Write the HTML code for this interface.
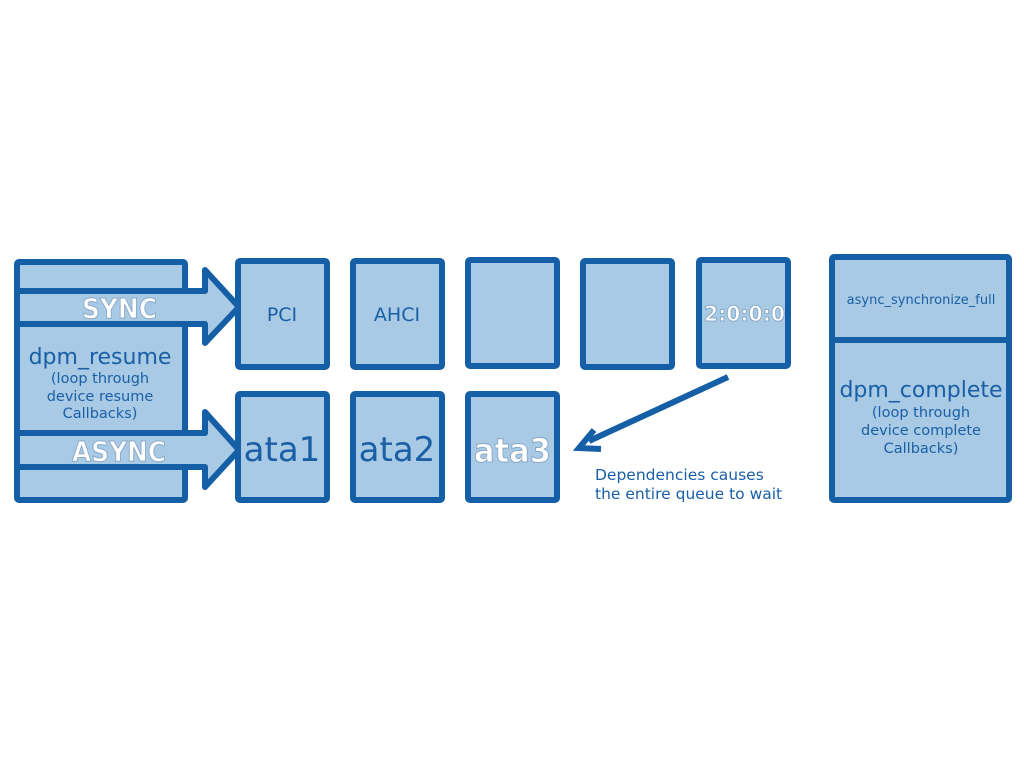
<!DOCTYPE html>
<html><head><style>
html,body{margin:0;padding:0;background:#fff;}
svg{display:block;}
</style></head><body>
<svg width="1024" height="768" viewBox="0 0 1024 768" font-family="DejaVu Sans, Liberation Sans, sans-serif">
<g fill="#a8cae4" stroke="#145fa6" stroke-width="6" stroke-linejoin="round">
  <rect x="17" y="262" width="168" height="238" rx="2"/>
  <path d="M17 291 L205 291 L205 270 L239 307 L205 343 L205 324 L17 324 Z"/>
  <path d="M17 433 L205 433 L205 412 L239 450 L205 487 L205 467 L17 467 Z"/>
  <rect x="238" y="261" width="89" height="106" rx="2"/>
  <rect x="353" y="261" width="89" height="106" rx="2"/>
  <rect x="468" y="260" width="89" height="106" rx="2"/>
  <rect x="583" y="261" width="89" height="106" rx="2"/>
  <rect x="699" y="260" width="89" height="106" rx="2"/>
  <rect x="238" y="394" width="89" height="106" rx="2"/>
  <rect x="353" y="394" width="89" height="106" rx="2"/>
  <rect x="468" y="394" width="89" height="106" rx="2"/>
  <rect x="832" y="257" width="177" height="243" rx="2"/>
  <line x1="832" y1="340" x2="1009" y2="340"/>
</g>
<g stroke="#145fa6" stroke-width="6" fill="none">
  <line x1="728" y1="377" x2="589" y2="441"/>
  <polyline points="594,430 579,448 601,449" stroke-linejoin="miter"/>
</g>
<g fill="#1a5fa6" text-anchor="middle">
  <text x="100" y="364" font-size="22">dpm_resume</text>
  <text x="100" y="383" font-size="14.5">(loop through</text>
  <text x="100" y="401" font-size="14.5">device resume</text>
  <text x="100" y="418" font-size="14.5">Callbacks)</text>
  <text x="282" y="321" font-size="19">PCI</text>
  <text x="397" y="321" font-size="19">AHCI</text>
  <text x="282" y="461" font-size="34">ata1</text>
  <text x="397" y="461" font-size="34">ata2</text>
  <text x="921" y="304" font-size="13">async_synchronize_full</text>
  <text x="921" y="397" font-size="22">dpm_complete</text>
  <text x="921" y="417" font-size="14.5">(loop through</text>
  <text x="921" y="435" font-size="14.5">device complete</text>
  <text x="921" y="453" font-size="14.5">Callbacks)</text>
</g>
<g fill="#1a5fa6" font-size="15.5">
  <text x="595" y="480">Dependencies causes</text>
  <text x="595" y="499">the entire queue to wait</text>
</g>
<g fill="#fff" stroke="#8aa9c8" stroke-width="1" font-weight="bold" lengthAdjust="spacingAndGlyphs">
  <text x="82" y="318" font-size="28" textLength="75" lengthAdjust="spacingAndGlyphs">SYNC</text>
  <text x="72" y="461" font-size="28" textLength="94" lengthAdjust="spacingAndGlyphs">ASYNC</text>
  <text x="704" y="321" font-size="21" textLength="81" lengthAdjust="spacingAndGlyphs">2:0:0:0</text>
  <text x="474" y="462" font-size="33" textLength="77" lengthAdjust="spacingAndGlyphs">ata3</text>
</g>
</svg>
</body></html>
